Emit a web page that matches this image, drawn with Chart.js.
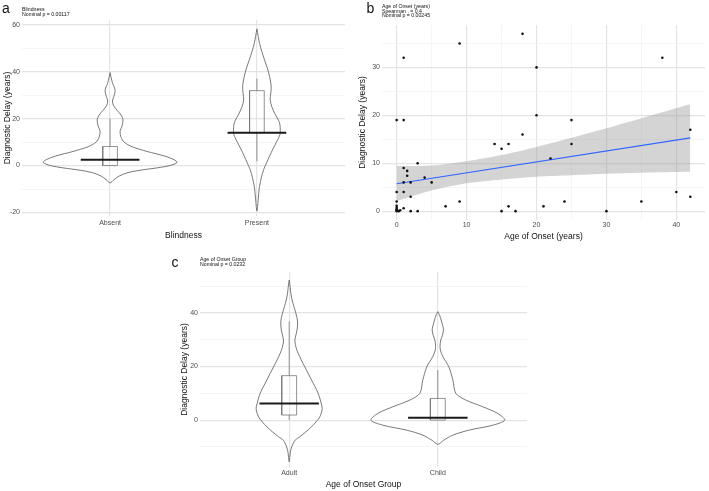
<!DOCTYPE html>
<html>
<head>
<meta charset="utf-8">
<title>Diagnostic Delay</title>
<script src="https://cdn.jsdelivr.net/npm/chart.js@4.4.1/dist/chart.umd.min.js"></script>
<style>
  html, body { margin: 0; padding: 0; background: #fff; }
  body { position: relative; width: 709px; height: 491px; overflow: hidden; }
  canvas { position: absolute; }
  #panel-a { left: 0; top: 0; }
  #panel-b { left: 355px; top: 0; }
  #panel-c { left: 165px; top: 245px; }
</style>
</head>
<body>
<canvas id="panel-a" width="350" height="245"></canvas>
<canvas id="panel-b" width="354" height="245"></canvas>
<canvas id="panel-c" width="370" height="246"></canvas>
<script>
// ==========================================
// DATA
// ==========================================

// Panel a - Blindness
const blindCats = ['Absent', 'Present'];
const absentLevels = [39.6, 37.5, 35, 33, 31.5, 29.5, 27.5, 25.5, 23.5, 21.5, 19.5, 17, 14.5, 12, 10, 8, 6, 4, 2.5, 1.3, 0, -1, -2, -3, -4.5, -6, -7.4];
const absentWidths = [0, .007, .017, .031, .034, .026, .016, .024, .048, .075, .088, .082, .068, .075, .095, .150, .252, .374, .435, .456, .408, .320, .204, .122, .061, .027, 0];
const presentLevels = [58.2, 55, 52, 48.5, 45, 41.5, 38, 34, 31, 28, 25, 22.4, 18.2, 14, 12.5, 9.7, 7, 4, 1, -1.7, -5, -8.8, -12, -15.8, -19.4];
const presentWidths = [0, .009, .018, .034, .052, .071, .086, .097, .095, .090, .102, .120, .154, .159, .153, .131, .109, .086, .065, .046, .031, .018, .012, .007, 0];
const blindMin = [0, 1.8];
const blindQ1 = [0, 14];
const blindMedian = [2.5, 14];
const blindQ3 = [8.1, 31.9];
const blindMax = [20, 37];
const blindGrid = [-20, -10, 0, 10, 20, 30, 40, 50, 60];
const blindLabels = [-20, 0, 20, 40, 60];

// Panel b - Age of onset vs delay
const onsetAge = [0, 1, 1, 9, 18, 20, 20, 25, 38, 42,
  18, 14, 15, 16, 25, 22, 3, 1, 1.5, 1.5, 4, 1, 2, 5,
  0, 1, 2, 0, 7, 9,
  0, 0, 0, 0, 0, 0.3, 0.5, 1, 2, 3,
  15, 16, 17, 21, 24, 30, 35, 40, 42];
const onsetDelay = [19, 19, 32, 35, 37, 30, 20, 19, 32, 17,
  16, 14, 13, 14, 14, 11, 10, 9, 8.4, 7.4, 7, 6, 6, 6,
  4, 4, 3, 2, 1, 2,
  1.1, 0.7, 0.4, 0.2, 0, 0, 0.2, 0.6, 0, 0,
  0, 1, 0, 1, 2, 0, 2, 4, 3];
const fitX = [0, 42];
const fitY = [5.7, 15.3];
const bandX = [0, 5, 10, 15, 20, 25, 30, 35, 42];
const bandLow = [2.1, 4.3, 5.8, 6.6, 7.2, 7.5, 7.8, 8.0, 8.2];
const bandHigh = [9.4, 9.5, 10.4, 11.7, 13.4, 15.3, 17.3, 19.4, 22.3];
const onsetXGrid = [0, 5, 10, 15, 20, 25, 30, 35, 40];
const onsetXLabels = [0, 10, 20, 30, 40];
const onsetYGrid = [0, 5, 10, 15, 20, 25, 30, 35];
const onsetYLabels = [0, 10, 20, 30];

// Panel c - Age of onset group
const groupCats = ['Adult', 'Child'];
const adultLevels = [52.3, 49.5, 47.4, 44.5, 42.4, 39.5, 37, 34, 31, 29.5, 27, 25, 22.5, 19.9, 15, 10, 5, 3.7, 1.2, -2.5, -6.2, -7.5, -10, -12, -14, -15.6];
const adultWidths = [0, .007, .011, .021, .032, .047, .056, .054, .042, .038, .047, .060, .081, .105, .150, .195, .221, .221, .206, .150, .072, .040, .017, .008, .004, 0];
const childLevels = [40.5, 39, 37.4, 35, 33.6, 31.5, 29.9, 28, 26.2, 23.7, 19.9, 15, 10, 7.5, 5, 2.5, 0, -1.9, -3.7, -5.6, -7.5, -9];
const childWidths = [0, .013, .022, .034, .038, .030, .020, .015, .017, .034, .074, .101, .121, .188, .302, .403, .450, .369, .213, .101, .040, 0];
const groupMin = [0, 0];
const groupQ1 = [1.9, 0];
const groupMedian = [6.2, 0.9];
const groupQ3 = [16.6, 8.1];
const groupMax = [36.8, 18.7];
const groupGrid = [-10, 0, 10, 20, 30, 40, 50];
const groupLabels = [0, 20, 40];

// ==========================================
// STYLE
// ==========================================

const FONT = "'Liberation Sans', Arial, Helvetica, sans-serif";
const TICK_COLOR = '#4d4d4d';
const TITLE_COLOR = '#111111';
const GRID_MAJOR = '#e4e4e4';
const GRID_MINOR = '#f1f1f1';
const VIOLIN_COLOR = '#6a6a6a';
const BOX_COLOR = '#777777';
const MEDIAN_COLOR = '#1a1a1a';

Chart.defaults.font.family = FONT;
Chart.defaults.animation = false;
Chart.defaults.plugins.legend.display = false;
Chart.defaults.plugins.tooltip.enabled = false;

// panel letter + small annotation block above the plot
const panelNotes = {
  id: 'panelNotes',
  afterDraw(chart, args, opts) {
    const { ctx, chartArea } = chart;
    ctx.save();
    ctx.fillStyle = TITLE_COLOR;
    ctx.textAlign = 'left';
    ctx.textBaseline = 'middle';
    ctx.font = '5.2px ' + FONT;
    opts.lines.forEach((line, i) => ctx.fillText(line, chartArea.left, opts.top + i * opts.step));
    ctx.textBaseline = 'alphabetic';
    ctx.font = '14px ' + FONT;
    ctx.fillText(opts.letter, opts.letterX, opts.letterY);
    ctx.restore();
  }
};

// ==========================================
// HELPERS
// ==========================================

function lineSet(data, color, width, extra) {
  return Object.assign({
    data: data,
    showLine: true,
    borderColor: color,
    borderWidth: width,
    pointRadius: 0,
    fill: false,
    spanGaps: false,
    tension: 0
  }, extra || {});
}

function violinOutline(levels, widths, pos) {
  const right = levels.map((y, i) => ({ x: pos + widths[i], y: y }));
  const left = levels.slice(0, -1).map((y, i) => ({ x: pos - widths[i], y: y })).reverse();
  return right.concat(left);
}

function boxOutline(pos, lo, q1, q3, hi, hw) {
  const gap = { x: pos, y: null };
  return [
    { x: pos - hw, y: q1 }, { x: pos + hw, y: q1 }, { x: pos + hw, y: q3 },
    { x: pos - hw, y: q3 }, { x: pos - hw, y: q1 }, gap,
    { x: pos, y: q3 }, { x: pos, y: hi }, gap,
    { x: pos, y: lo }, { x: pos, y: q1 }
  ];
}

function gridStyle(majors) {
  const isMajor = c => c.tick && majors.includes(c.tick.value);
  return {
    color: c => isMajor(c) ? GRID_MAJOR : GRID_MINOR,
    lineWidth: c => isMajor(c) ? 1.2 : 0.7,
    drawTicks: false
  };
}

/**
 * Linear axis with fixed grid values, labels on a subset only
 */
function axis(opts) {
  const horizontal = opts.position === 'bottom';
  return {
    type: 'linear',
    position: opts.position,
    min: opts.min,
    max: opts.max,
    bounds: 'data',
    border: { display: false },
    grid: gridStyle(opts.majors),
    afterBuildTicks: s => { s.ticks = opts.grid.map(v => ({ value: v })); },
    afterFit: s => { if (horizontal) s.height = opts.size; else s.width = opts.size; },
    ticks: {
      autoSkip: false,
      maxRotation: 0,
      padding: opts.tickPad,
      color: TICK_COLOR,
      font: { size: 7 },
      callback: opts.label
    },
    title: {
      display: true,
      text: opts.title,
      color: TITLE_COLOR,
      font: { size: 8.5 },
      padding: horizontal ? { top: 0, bottom: opts.titlePad } : { top: opts.titlePad, bottom: 0 }
    }
  };
}

function violinDatasets(groups) {
  const medians = [], boxes = [], violins = [];
  groups.forEach((g, i) => {
    const pos = i + 1;
    medians.push(lineSet([{ x: pos - 0.2, y: g.med }, { x: pos + 0.2, y: g.med }], MEDIAN_COLOR, 2));
    boxes.push(lineSet(boxOutline(pos, g.lo, g.q1, g.q3, g.hi, 0.05), BOX_COLOR, 0.8));
    violins.push(lineSet(violinOutline(g.levels, g.widths, pos), VIOLIN_COLOR, 0.9, { tension: 0.3 }));
  });
  return medians.concat(boxes, violins);
}

// ==========================================
// PANEL A - BLINDNESS
// ==========================================

function initBlindnessChart() {
  const ctx = document.getElementById('panel-a').getContext('2d');
  const groups = [
    { levels: absentLevels, widths: absentWidths, lo: blindMin[0], q1: blindQ1[0], med: blindMedian[0], q3: blindQ3[0], hi: blindMax[0] },
    { levels: presentLevels, widths: presentWidths, lo: blindMin[1], q1: blindQ1[1], med: blindMedian[1], q3: blindQ3[1], hi: blindMax[1] }
  ];
  return new Chart(ctx, {
    type: 'scatter',
    data: { datasets: violinDatasets(groups) },
    options: {
      responsive: false,
      devicePixelRatio: 1,
      layout: { padding: { top: 20, right: 5, left: 0, bottom: 0 } },
      scales: {
        x: axis({ position: 'bottom', min: 0.4, max: 2.6, grid: [1, 2], majors: [1, 2], size: 29, tickPad: 3, titlePad: 4,
          title: 'Blindness', label: v => blindCats[v - 1] }),
        y: axis({ position: 'left', min: -21.5, max: 62, grid: blindGrid, majors: blindLabels, size: 22, tickPad: 2, titlePad: 3,
          title: 'Diagnostic Delay (years)', label: v => blindLabels.includes(v) ? String(v) : '' })
      },
      plugins: {
        panelNotes: { lines: ['Blindness', 'Nominal p = 0.00117'], top: 9.3, step: 5, letter: 'a', letterX: 2, letterY: 12.5 }
      }
    },
    plugins: [panelNotes]
  });
}

// ==========================================
// PANEL B - AGE OF ONSET (SCATTER + FIT)
// ==========================================

function initOnsetScatterChart() {
  const ctx = document.getElementById('panel-b').getContext('2d');
  const points = onsetAge.map((x, i) => ({ x: x, y: onsetDelay[i] }));
  const fit = fitX.map((x, i) => ({ x: x, y: fitY[i] }));
  const high = bandX.map((x, i) => ({ x: x, y: bandHigh[i] }));
  const low = bandX.map((x, i) => ({ x: x, y: bandLow[i] }));
  return new Chart(ctx, {
    type: 'scatter',
    data: {
      datasets: [
        { data: points, pointRadius: 1.3, pointBackgroundColor: '#111111', pointBorderWidth: 0, showLine: false },
        lineSet(fit, '#3366FF', 1.1),
        lineSet(high, 'rgba(0,0,0,0)', 0, { fill: '+1', backgroundColor: 'rgba(153,153,153,0.42)', tension: 0.3 }),
        lineSet(low, 'rgba(0,0,0,0)', 0, { tension: 0.3 })
      ]
    },
    options: {
      responsive: false,
      devicePixelRatio: 1,
      layout: { padding: { top: 25, right: 2, left: 0, bottom: 0 } },
      scales: {
        x: axis({ position: 'bottom', min: -2.1, max: 44.1, grid: onsetXGrid, majors: onsetXLabels, size: 25, tickPad: 1, titlePad: 3,
          title: 'Age of Onset (years)', label: v => onsetXLabels.includes(v) ? String(v) : '' }),
        y: axis({ position: 'left', min: -1.85, max: 38.85, grid: onsetYGrid, majors: onsetYLabels, size: 27, tickPad: 2, titlePad: 3,
          title: 'Diagnostic Delay (years)', label: v => onsetYLabels.includes(v) ? String(v) : '' })
      },
      plugins: {
        panelNotes: { lines: ['Age of Onset (years)', 'Spearman . = 0.4', 'Nominal p = 0.00245'], top: 6.8, step: 4.4, letter: 'b', letterX: 11.5, letterY: 13.3 }
      }
    },
    plugins: [panelNotes]
  });
}

// ==========================================
// PANEL C - AGE OF ONSET GROUP
// ==========================================

function initOnsetGroupChart() {
  const ctx = document.getElementById('panel-c').getContext('2d');
  const groups = [
    { levels: adultLevels, widths: adultWidths, lo: groupMin[0], q1: groupQ1[0], med: groupMedian[0], q3: groupQ3[0], hi: groupMax[0] },
    { levels: childLevels, widths: childWidths, lo: groupMin[1], q1: groupQ1[1], med: groupMedian[1], q3: groupQ3[1], hi: groupMax[1] }
  ];
  return new Chart(ctx, {
    type: 'scatter',
    data: { datasets: violinDatasets(groups) },
    options: {
      responsive: false,
      devicePixelRatio: 1,
      layout: { padding: { top: 27, right: 8, left: 0, bottom: 0 } },
      scales: {
        x: axis({ position: 'bottom', min: 0.4, max: 2.6, grid: [1, 2], majors: [1, 2], size: 24, tickPad: 2, titlePad: 1,
          title: 'Age of Onset Group', label: v => groupCats[v - 1] }),
        y: axis({ position: 'left', min: -17.5, max: 55.3, grid: groupGrid, majors: groupLabels, size: 35, tickPad: 2, titlePad: 15,
          title: 'Diagnostic Delay (years)', label: v => groupLabels.includes(v) ? String(v) : '' })
      },
      plugins: {
        panelNotes: { lines: ['Age of Onset Group', 'Nominal p = 0.0232'], top: 15, step: 5, letter: 'c', letterX: 6.5, letterY: 21.7 }
      }
    },
    plugins: [panelNotes]
  });
}

initBlindnessChart();
initOnsetScatterChart();
initOnsetGroupChart();
</script>
</body>
</html>
